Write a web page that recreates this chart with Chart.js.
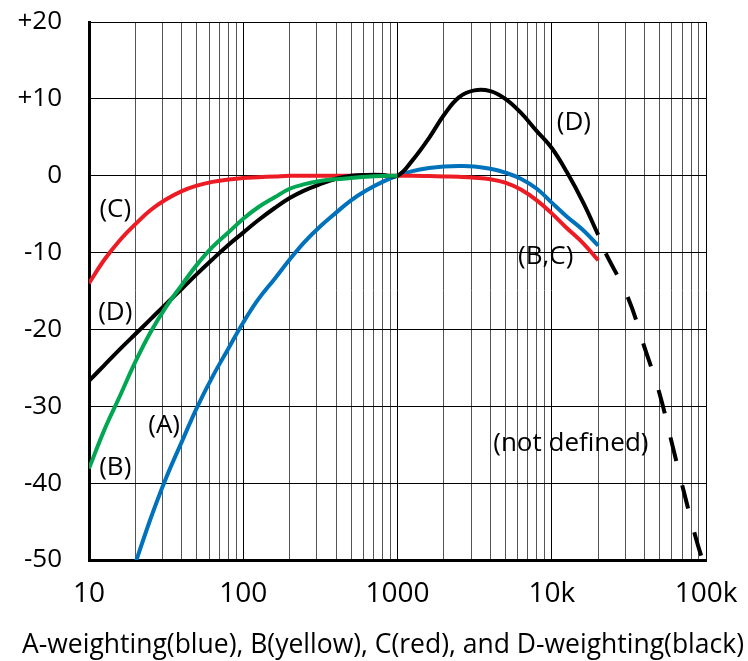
<!DOCTYPE html>
<html><head><meta charset="utf-8">
<script src="https://cdn.jsdelivr.net/npm/chart.js@4.4.1/dist/chart.umd.min.js"></script>
<style>html,body{margin:0;padding:0;background:#fff;}canvas{display:block;}</style>
</head><body>
<canvas id="c" width="748" height="661"></canvas>
<script>
// ---- data ----
const freqA = [20, 25, 31.5, 40, 50, 63, 80, 100, 125, 160, 200, 250, 315, 400, 500, 630, 800, 1000, 1250, 1600, 2000, 2500, 3150, 4000, 5000, 6300, 8000, 10000, 12500, 16000, 20000];
const dbA   = [-50.4, -44.7, -39.4, -34.6, -30.2, -26.2, -22.5, -19.1, -16.1, -13.4, -10.9, -8.6, -6.6, -4.8, -3.2, -1.9, -0.8, 0, 0.6, 1.0, 1.2, 1.25, 1.2, 0.9, 0.4, -0.4, -1.7, -3.5, -5.3, -7.1, -9.1];

const freqB = [10, 12.5, 16, 20, 25, 31.5, 40, 50, 63, 80, 100, 125, 160, 200, 250, 315, 400, 500, 630, 800, 1000];
const dbB   = [-38.1, -33.2, -28.5, -24.2, -20.4, -17.1, -14.2, -11.6, -9.3, -7.4, -5.6, -4.1, -2.8, -1.7, -1.1, -0.7, -0.45, -0.3, -0.15, -0.05, 0];

const freqC = [10, 12.5, 16, 20, 25, 31.5, 40, 50, 63, 80, 100, 125, 160, 200, 315, 500, 800, 1000, 1250, 1600, 2000, 2500, 3150, 4000, 5000, 6300, 8000, 10000, 12500, 16000, 20000];
const dbC   = [-14.0, -11.0, -8.3, -6.3, -4.5, -3.1, -2.0, -1.3, -0.8, -0.5, -0.3, -0.2, -0.1, 0, 0, 0, 0, 0, 0, -0.05, -0.1, -0.15, -0.25, -0.45, -0.9, -1.8, -3.2, -4.9, -6.8, -8.8, -11.0];

const freqD = [10, 12.5, 16, 20, 25, 31.5, 40, 50, 63, 80, 100, 125, 160, 200, 250, 315, 400, 500, 630, 800, 1000, 1250, 1600, 2000, 2500, 3150, 4000, 5000, 6300, 8000, 10000, 12500, 16000, 20000];
const dbD   = [-26.7, -24.7, -22.5, -20.6, -18.7, -16.7, -14.7, -12.8, -10.9, -9.0, -7.4, -5.8, -4.2, -2.9, -1.9, -1.1, -0.4, 0, 0.1, 0.1, 0, 2.0, 4.9, 7.9, 10.2, 11.1, 11.0, 10.0, 8.2, 5.8, 3.6, 0.5, -3.5, -7.7];

// D beyond 20 kHz ("not defined"), dashed
const freqDext = [22400, 31400, 39600, 49900, 59600, 71600, 86100, 96000];
const dbDext   = [-10.1, -16.0, -22.1, -28.3, -34.5, -41.0, -47.2, -50.3];

// ticks
const xDecades = [10, 100, 1000, 10000, 100000];
const xDecadeLabels = ['10', '100', '1000', '10k', '100k'];
const xMultipliers = [1, 2, 3, 4, 5, 6, 7, 8, 9];
const yTickValues = [-50, -40, -30, -20, -10, 0, 10, 20];
const yTickLabels = ['-50', '-40', '-30', '-20', '-10', '0', '+10', '+20'];

// annotations
const noteText = ['(C)', '(D)', '(A)', '(B)', '(D)', '(B,C)', '(not defined)'];
const noteFreq = [14.8, 14.8, 30.7, 14.8, 13900, 9140, 13300];
const noteDb   = [-4.4, -17.8, -32.5, -38.0, 6.9, -10.5, -34.9];

const titleText = 'A-weighting(blue), B(yellow), C(red), and D-weighting(black)';

// ---- build ----
const pts = (f, d) => f.map((v, i) => ({x: v, y: d[i]}));
const xTickValues = [];
xDecades.forEach((dec, i) => {
  if (i === xDecades.length - 1) { xTickValues.push(dec); return; }
  xMultipliers.forEach(m => xTickValues.push(dec * m));
});
const FONT = "'Open Sans', 'Noto Sans', sans-serif";

const notesPlugin = {
  id: 'notes',
  afterDatasetsDraw(chart) {
    const {ctx, scales} = chart;
    ctx.save();
    ctx.fillStyle = '#000';
    ctx.font = '26px ' + FONT;
    ctx.textAlign = 'center';
    ctx.textBaseline = 'middle';
    noteText.forEach((t, i) => {
      ctx.fillText(t, scales.x.getPixelForValue(noteFreq[i]), scales.y.getPixelForValue(noteDb[i]));
    });
    // caption under the axis
    ctx.font = '26.5px ' + FONT;
    ctx.fillText(titleText, 383, 645);
    ctx.restore();
  }
};

const base = {pointRadius: 0, borderWidth: 4, fill: false, tension: 0.4, borderCapStyle: 'butt'};

new Chart(document.getElementById('c'), {
  type: 'line',
  data: {
    datasets: [
      Object.assign({label: 'B', data: pts(freqB, dbB), borderColor: '#00A651'}, base),
      Object.assign({label: 'D', data: pts(freqD, dbD), borderColor: '#000000'}, base),
      Object.assign({label: 'D (not defined)', data: pts(freqDext, dbDext), borderColor: '#000000', borderDash: [24, 25]}, base),
      Object.assign({label: 'C', data: pts(freqC, dbC), borderColor: '#ED1C24'}, base),
      Object.assign({label: 'A', data: pts(freqA, dbA), borderColor: '#0072BC'}, base)
    ]
  },
  options: {
    responsive: false,
    animation: false,
    devicePixelRatio: 1,
    layout: {padding: {top: 22, right: 42, left: 0, bottom: 0}},
    plugins: {
      legend: {display: false},
      tooltip: {enabled: false},
      title: {display: false}
    },
    scales: {
      x: {
        type: 'logarithmic', min: 10, max: 100000,
        afterBuildTicks(scale) {
          scale.ticks = xTickValues.map(v => ({value: v, major: xDecades.includes(v)}));
        },
        afterFit(scale) { scale.height = 101; },
        ticks: {
          autoSkip: false, maxRotation: 0, minRotation: 0, padding: 0, color: '#000',
          font: {family: FONT, size: 28},
          callback: (v) => { const i = xDecades.indexOf(v); return i >= 0 ? xDecadeLabels[i] : ''; }
        },
        grid: {
          drawTicks: true, tickLength: 17, tickColor: 'rgba(0,0,0,0)', lineWidth: 1,
          color: (c) => (c.tick && xDecades.includes(c.tick.value)) ? '#000' : '#555'
        },
        border: {display: true, color: '#000', width: 3}
      },
      y: {
        type: 'linear', min: -50, max: 20,
        afterBuildTicks(scale) { scale.ticks = yTickValues.map(v => ({value: v})); },
        afterFit(scale) { scale.width = 89; },
        ticks: {
          padding: 0, color: '#000', font: {family: FONT, size: 26},
          callback: (v) => { const i = yTickValues.indexOf(v); return i >= 0 ? yTickLabels[i] : ''; }
        },
        grid: {drawTicks: true, tickLength: 27, tickColor: 'rgba(0,0,0,0)', color: '#000', lineWidth: 1},
        border: {display: true, color: '#000', width: 3}
      }
    }
  },
  plugins: [notesPlugin]
});
</script>
</body></html>
